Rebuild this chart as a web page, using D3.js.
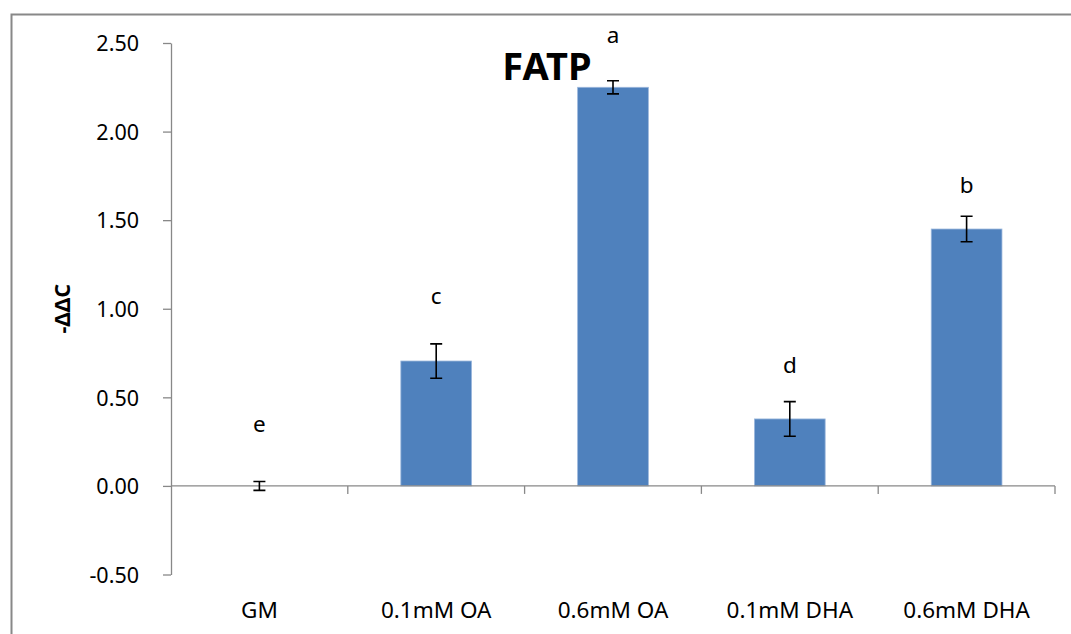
<!DOCTYPE html>
<html>
<head>
<meta charset="utf-8">
<script src="https://cdn.jsdelivr.net/npm/d3@7"></script>
<style>
  body { margin: 0; background: #fff; }
  text { font-family: "Noto Sans", "Liberation Sans", Arial, sans-serif; fill: #000; }
</style>
</head>
<body>
<div id="chart"></div>
<script>
// chart data
var categories = ['GM', '0.1mM OA', '0.6mM OA', '0.1mM DHA', '0.6mM DHA'];
var values = [0.00, 0.705, 2.25, 0.378, 1.45];
var errors = [0.025, 0.097, 0.037, 0.098, 0.072];
var letters = ['e', 'c', 'a', 'd', 'b'];
var letterY = [0.303, 1.025, 2.50, 0.636, 1.656];
var yTicks = [-0.5, 0, 0.5, 1.0, 1.5, 2.0, 2.5];

var width = 1071, height = 634;
var margin = {left: 171, right: 16, top: 43, bottom: 59.5};
var fontFamily = '"Noto Sans", "Liberation Sans", Arial, sans-serif';

var svg = d3.select('#chart')
    .append('svg')
    .attr('width', width)
    .attr('height', height);

// chart area border (only top and left visible)
svg.append('path')
    .attr('d', 'M11.5,' + height + 'V14.5H' + width)
    .attr('fill', 'none')
    .attr('stroke', '#888')
    .attr('stroke-width', 2);

var y = d3.scaleLinear()
    .domain([-0.5, 2.5])
    .range([height - margin.bottom, margin.top]);

var xOuter = d3.scaleBand()
    .domain(categories)
    .range([margin.left, width - margin.right]);

var x = d3.scaleBand()
    .domain(categories)
    .range([margin.left, width - margin.right])
    .paddingInner(0.6)
    .paddingOuter(0.3);

// y axis
var yAxis = svg.append('g')
    .attr('transform', 'translate(' + margin.left + ',0)')
    .call(d3.axisLeft(y).tickValues(yTicks).tickSize(8).tickSizeOuter(0).tickPadding(24)
        .tickFormat(d => d.toFixed(2)));
yAxis.select('.domain').attr('stroke', '#888').attr('stroke-width', 1.3);
yAxis.selectAll('.tick line').attr('stroke', '#888').attr('stroke-width', 1.3);
yAxis.selectAll('.tick text')
    .attr('font-size', 21.5)
    .attr('font-family', fontFamily)
    .attr('dy', '0.36em');

// bars
svg.selectAll('rect.bar')
    .data(categories)
    .enter()
    .append('rect')
    .attr('class', 'bar')
    .attr('x', d => x(d))
    .attr('width', x.bandwidth())
    .attr('y', (d, i) => y(Math.max(0, values[i])))
    .attr('height', (d, i) => Math.abs(y(values[i]) - y(0)))
    .attr('fill', '#4F81BD')
    .attr('stroke', '#9bb7dc')
    .attr('stroke-width', 0.8);

// x axis line at zero with ticks between categories
var y0 = y(0);
svg.append('line')
    .attr('x1', margin.left).attr('x2', width - margin.right)
    .attr('y1', y0).attr('y2', y0)
    .attr('stroke', '#888').attr('stroke-width', 1.3);

var tickPos = categories.map(d => xOuter(d)).concat([xOuter.range()[1]]);
svg.selectAll('line.xtick')
    .data(tickPos.slice(1))
    .enter()
    .append('line')
    .attr('class', 'xtick')
    .attr('x1', d => d).attr('x2', d => d)
    .attr('y1', y0).attr('y2', y0 + 8)
    .attr('stroke', '#888').attr('stroke-width', 1.3);

// category labels
svg.selectAll('text.cat')
    .data(categories)
    .enter()
    .append('text')
    .attr('class', 'cat')
    .attr('x', d => x(d) + x.bandwidth() / 2)
    .attr('y', 618)
    .attr('text-anchor', 'middle')
    .attr('font-size', 22.5)
    .text(d => d);

// error bars
var cap = 6;
var errG = svg.append('g')
    .attr('stroke', '#000')
    .attr('stroke-width', 1.6)
    .attr('fill', 'none');
errG.selectAll('path')
    .data(categories)
    .enter()
    .append('path')
    .attr('d', (d, i) => {
        var cx = x(d) + x.bandwidth() / 2;
        var top = y(values[i] + errors[i]);
        var bot = y(values[i] - errors[i]);
        return 'M' + (cx - cap) + ',' + top + 'H' + (cx + cap)
            + 'M' + cx + ',' + top + 'V' + bot
            + 'M' + (cx - cap) + ',' + bot + 'H' + (cx + cap);
    });

// significance letters
svg.selectAll('text.letter')
    .data(categories)
    .enter()
    .append('text')
    .attr('class', 'letter')
    .attr('x', d => x(d) + x.bandwidth() / 2)
    .attr('y', (d, i) => y(letterY[i]))
    .attr('text-anchor', 'middle')
    .attr('font-size', 22.5)
    .text((d, i) => letters[i]);

// title
svg.append('text')
    .attr('x', 547)
    .attr('y', 80)
    .attr('text-anchor', 'middle')
    .attr('font-size', 38)
    .attr('font-weight', 'bold')
    .attr('font-family', '"Liberation Sans", Arial, sans-serif')
    .text('FATP');

// y axis title
svg.append('text')
    .attr('transform', 'translate(70,' + (margin.top + (height - margin.bottom - margin.top) / 2) + ') rotate(-90)')
    .attr('text-anchor', 'middle')
    .attr('font-size', 21.5)
    .attr('font-weight', 'bold')
    .text('-ΔΔC');
</script>
</body>
</html>
